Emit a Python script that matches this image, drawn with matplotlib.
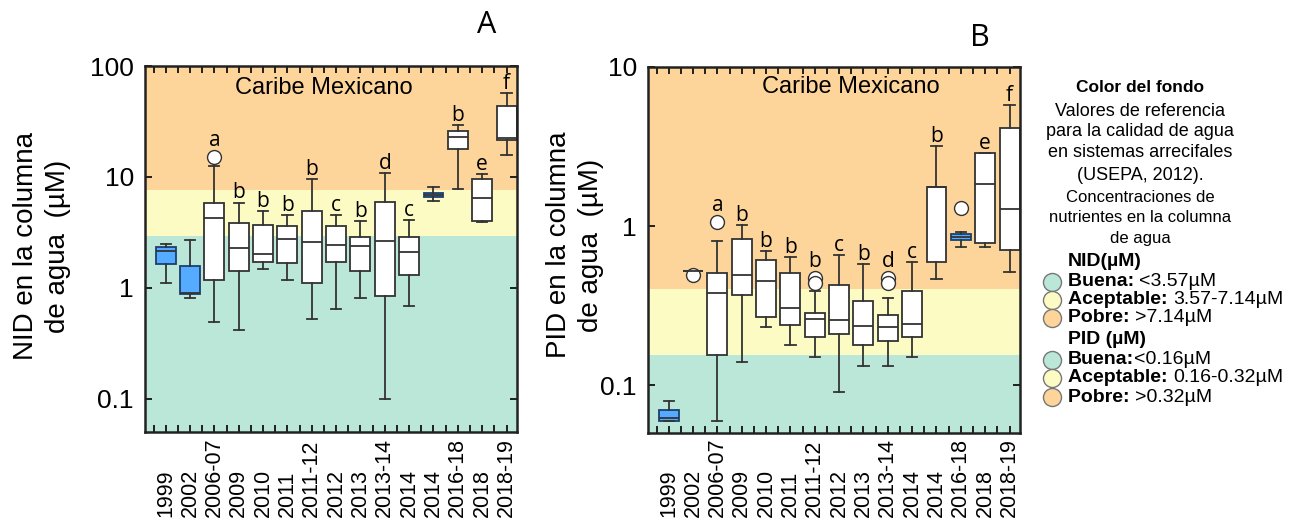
import numpy as np
import matplotlib.pyplot as plt
from matplotlib.lines import Line2D
from matplotlib.transforms import blended_transform_factory

# categories (same for both panels)
years = ['1999', '2002', '2006-07', '2009', '2010', '2011', '2011-12', '2012',
         '2013', '2013-14', '2014', '2014', '2016-18', '2018', '2018-19']

# panel A: NID (uM), box statistics
nid_whislo = [1.10, 0.80, 0.487, 0.419, 1.48, 1.18, 0.518, 0.643, 0.807, 0.0993, 0.679, 6.11, 7.85, 3.88, 15.8]
nid_q1     = [1.64, 0.877, 1.18, 1.43, 1.71, 1.68, 1.11, 1.71, 1.42, 0.84, 1.31, 6.57, 17.9, 4.04, 21.5]
nid_med    = [2.15, 0.90, 4.25, 2.26, 2.01, 2.75, 2.58, 2.43, 2.36, 2.64, 2.08, 6.89, 22.8, 6.51, 22.3]
nid_q3     = [2.31, 1.58, 5.86, 3.83, 3.67, 3.60, 4.94, 3.60, 2.86, 5.96, 2.86, 7.22, 26.1, 9.66, 43.6]
nid_whishi = [2.48, 2.69, 12.6, 5.86, 4.94, 4.55, 9.53, 4.49, 3.99, 10.9, 4.07, 8.18, 29.4, 10.6, 57.4]
nid_fliers = [[], [], [15.2], [], [], [], [], [], [], [], [], [], [], [], []]
nid_letters = ['', '', 'a', 'b', 'b', 'b', 'b', 'c', 'b', 'd', 'c', '', 'b', 'e', 'f']
nid_blue = [0, 1, 11]

# panel B: PID (uM)
pid_whislo = [0.0593, 0.52, 0.0593, 0.139, 0.231, 0.179, 0.151, 0.090, 0.131, 0.131, 0.151, 0.463, 0.738, 0.738, 0.517]
pid_q1     = [0.0593, 0.52, 0.155, 0.367, 0.269, 0.239, 0.200, 0.209, 0.179, 0.190, 0.200, 0.597, 0.813, 0.786, 0.704]
pid_med    = [0.062, 0.52, 0.379, 0.490, 0.452, 0.305, 0.260, 0.256, 0.234, 0.231, 0.244, 1.75, 0.853, 1.85, 1.28]
pid_q3     = [0.0699, 0.52, 0.507, 0.833, 0.612, 0.507, 0.286, 0.425, 0.339, 0.277, 0.391, 1.76, 0.887, 2.86, 4.13]
pid_whishi = [0.080, 0.52, 0.80, 1.02, 0.697, 0.64, 0.391, 0.655, 0.58, 0.355, 0.595, 3.17, 0.921, 2.86, 5.79]
pid_fliers = [[], [0.49], [1.06], [], [], [], [0.47, 0.44], [], [], [0.47, 0.44], [], [], [1.30], [], []]
pid_letters = ['', '', 'a', 'b', 'b', 'b', 'b', 'c', 'b', 'd', 'c', 'b', '', 'e', 'f']
pid_blue = [0, 12]

# background bands (limits as drawn)
nid_bounds = [2.95, 7.6]
pid_bounds = [0.154, 0.40]

plt.rcParams['font.family'] = ['Liberation Sans', 'DejaVu Sans']

W, H = 1298, 521
fig = plt.figure(figsize=(W / 100, H / 100), dpi=100)

def px(x, y):
    return x / W, 1 - y / H

c_buena = '#BAE7D8'
c_acept = '#FDFBC4'
c_pobre = '#FDD499'
c_blue = '#55ABFF'
ink = '#333333'


def panel(left, right, top, bottom, ylim, bounds, lo, q1, med, q3, hi, fl, letters, blue,
          yticks, yticklabels):
    ax = fig.add_axes([left / W, 1 - bottom / H, (right - left) / W, (bottom - top) / H])
    ax.set_yscale('log')
    ax.set_ylim(*ylim)
    ax.set_xlim(-0.85, 14.43)
    ax.axhspan(ylim[0], bounds[0], color=c_buena, lw=0, zorder=0)
    ax.axhspan(bounds[0], bounds[1], color=c_acept, lw=0, zorder=0)
    ax.axhspan(bounds[1], ylim[1], color=c_pobre, lw=0, zorder=0)

    stats = [dict(whislo=a, q1=b, med=c, q3=d, whishi=e, fliers=f)
             for a, b, c, d, e, f in zip(lo, q1, med, q3, hi, fl)]
    pos = np.arange(len(stats))
    bp = ax.bxp(stats, positions=pos, widths=0.82, capwidths=0.42, patch_artist=True,
                boxprops=dict(facecolor='white', edgecolor=ink, linewidth=1.3),
                medianprops=dict(color=ink, linewidth=1.3),
                whiskerprops=dict(color=ink, linewidth=1.3),
                capprops=dict(color=ink, linewidth=1.3),
                flierprops=dict(marker='o', markerfacecolor='white', markeredgecolor=ink,
                                markersize=10, markeredgewidth=1.0))
    for i in blue:
        bp['boxes'][i].set_facecolor(c_blue)
        bp['boxes'][i].set_edgecolor('#1d3f6e')

    for i, let in enumerate(letters):
        if not let:
            continue
        top_v = max([hi[i]] + fl[i])
        off = 3 + (5 if fl[i] and max(fl[i]) >= hi[i] else 0)
        ax.annotate(let, (i, top_v), xytext=(0, off), textcoords='offset points',
                    ha='center', va='baseline', fontsize=15, family='Open Sans')

    ax.minorticks_off()
    ax.set_yticks(yticks)
    ax.set_yticklabels(yticklabels, fontsize=19)
    ax.set_xticks(np.arange(-0.5, 14.5, 0.5))
    ax.set_xticklabels([])
    ax.tick_params(axis='both', direction='in', top=True, right=True, length=5, width=1.2)
    ax.tick_params(axis='y', pad=8)
    for s in ax.spines.values():
        s.set_linewidth(1.8)
        s.set_color('#222222')

    tr = blended_transform_factory(ax.transData, fig.transFigure)
    for i, lab in enumerate(years):
        ax.text(i, 4 / H, lab, transform=tr, rotation=90, ha='center', va='bottom', fontsize=15.5)
    return ax


axA = panel(145, 517, 66, 432, (0.05, 100), nid_bounds, nid_whislo, nid_q1, nid_med, nid_q3,
            nid_whishi, nid_fliers, nid_letters, nid_blue,
            [0.1, 1, 10, 100], ['0.1', '1', '10', '100'])
axB = panel(648, 1020, 67, 433, (0.05, 10), pid_bounds, pid_whislo, pid_q1, pid_med, pid_q3,
            pid_whishi, pid_fliers, pid_letters, pid_blue,
            [0.1, 1, 10], ['0.1', '1', '10'])

axA.text(0.481, 0.94, 'Caribe Mexicano', transform=axA.transAxes, ha='center', va='center', fontsize=17)
axB.text(0.546, 0.945, 'Caribe Mexicano', transform=axB.transAxes, ha='center', va='center', fontsize=17)

fig.text(*px(42, 246), 'NID en la columna\nde agua  (µM)', rotation=90, ha='center', va='center',
         fontsize=20, linespacing=1.3)
fig.text(*px(575, 245), 'PID en la columna\nde agua  (µM)', rotation=90, ha='center', va='center',
         fontsize=20, linespacing=1.3)

fig.text(*px(487, 25), 'A', ha='center', va='center', fontsize=22, family='Open Sans')
fig.text(*px(980, 38), 'B', ha='center', va='center', fontsize=22, family='Open Sans')

# right-hand legend block
head_lines = [('Color del fondo', 88, 'bold', 12.5),
              ('Valores de referencia', 112, 'normal', 13),
              ('para la calidad de agua', 132, 'normal', 13),
              ('en sistemas arrecifales', 153, 'normal', 13),
              ('(USEPA, 2012).', 175, 'normal', 13),
              ('Concentraciones de', 197, 'normal', 12),
              ('nutrientes en la columna', 217, 'normal', 12),
              ('de agua', 238, 'normal', 12)]
for txt, y, w, fs in head_lines:
    fig.text(*px(1140, y), txt, ha='center', va='center', fontweight=w, fontsize=fs)

groups = [('NID(µM)', 262), ('PID (µM)', 340)]
for txt, y in groups:
    fig.text(*px(1068, y), txt, ha='left', va='center', fontweight='bold', fontsize=14)

items = [('Buena: ', '<3.57µM', 282, c_buena),
         ('Aceptable: ', '3.57-7.14µM', 300, c_acept),
         ('Pobre: ', '>7.14µM', 318, c_pobre),
         ('Buena:', '<0.16µM', 360, c_buena),
         ('Aceptable: ', '0.16-0.32µM', 378, c_acept),
         ('Pobre: ', '>0.32µM', 397, c_pobre)]
for b, n, y, c in items:
    fig.add_artist(Line2D([px(1052, y)[0]], [px(1052, y)[1]], marker='o', markersize=13,
                          markerfacecolor=c, markeredgecolor='#777777', markeredgewidth=1.0,
                          transform=fig.transFigure))
    t = fig.text(*px(1068, y), b, ha='left', va='center', fontweight='bold', fontsize=14)
    fig.canvas.draw()
    ext = t.get_window_extent()
    fig.text(ext.x1 / W, px(0, y)[1], n, ha='left', va='center', fontsize=14)

fig.savefig('out.png', dpi=100)
